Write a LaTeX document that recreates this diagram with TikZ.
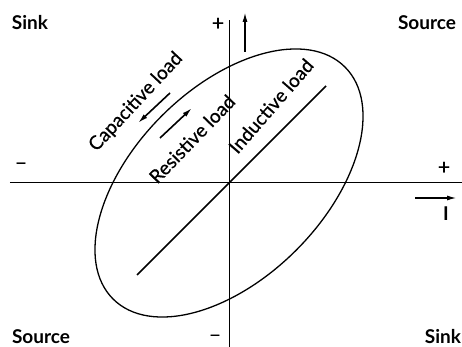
\documentclass[tikz,border=0pt]{standalone}
\usepackage{fontspec}
\setmainfont{Lato}
\newfontfamily\medfont{Lato}[BoldFont=Lato, BoldFeatures={FakeBold=0.6}]
\usetikzlibrary{arrows.meta}

\begin{document}
\begin{tikzpicture}[x=1pt,y=1pt,
  corner/.style={font=\fontsize{19}{22}\selectfont\bfseries},
  sign/.style={font=\fontsize{21}{22}\selectfont\medfont\bfseries, inner sep=0pt},
  loadlabel/.style={font=\fontsize{19}{22}\selectfont\medfont\bfseries, inner sep=0pt},
  flow/.style={-{Latex[length=10pt,width=5pt]}, line width=1.6pt}]

\useasboundingbox (-229,-164) rectangle (233,183);

% -------------------------------------------------
% Axes
% -------------------------------------------------
\coordinate (xmin) at (-219,0);
\coordinate (xmax) at (233,0);
\coordinate (ymin) at (0,-164);
\coordinate (ymax) at (0,163);
\draw[line width=1pt] (xmin) -- (xmax); % axe I
\draw[line width=1pt] (ymin) -- (ymax); % axe V

% -------------------------------------------------
% Signes
% -------------------------------------------------
\node[sign] (yplus)  at (-11,159)  {+};
\node[sign] (yminus) at (-14,-155) {–};
\node[sign] (xminus) at (-208,17)  {–};
\node[sign] (xplus)  at (215,15)   {+};

% -------------------------------------------------
% Sens positifs
% -------------------------------------------------
\coordinate (vfrom) at (16,131);
\coordinate (vto)   at (16,171);
\draw[flow] (vfrom) -- (vto);
\coordinate (ifrom) at (186,-15);
\coordinate (ito)   at (228,-15);
\draw[flow] (ifrom) -- (ito);
\node[font=\fontsize{19}{20}\selectfont\bfseries] (ilabel) at (217,-31) {I};

% -------------------------------------------------
% Quadrants
% -------------------------------------------------
\node[corner] (sinkTL)   at (-199,160)  {Sink};
\node[corner] (sourceTR) at (198,160)   {Source};
\node[corner] (sourceBL) at (-188,-154) {Source};
\node[corner] (sinkBR)   at (214,-154)  {Sink};

% -------------------------------------------------
% Charges
% -------------------------------------------------
\draw[line width=1.3pt, rotate=45] (0,0) ellipse (164 and 95);
\coordinate (rlow)  at (-92,-92);
\coordinate (rhigh) at (97,97);
\draw[line width=1.5pt] (rlow) -- (rhigh);

\node[loadlabel, rotate=47] (capa) at (-93,81) {Capacitive load};
\node[loadlabel, rotate=46] (resi) at (-37,44) {Resistive load};
\node[loadlabel, rotate=49] (indu) at (42,77)  {Inductive load};

\coordinate (cfrom) at (-59,90);
\coordinate (cto)   at (-91,60);
\draw[flow] (cfrom) -- (cto);
\coordinate (rfrom) at (-69,45);
\coordinate (rto)   at (-37,75);
\draw[flow] (rfrom) -- (rto);

\end{tikzpicture}
\end{document}
